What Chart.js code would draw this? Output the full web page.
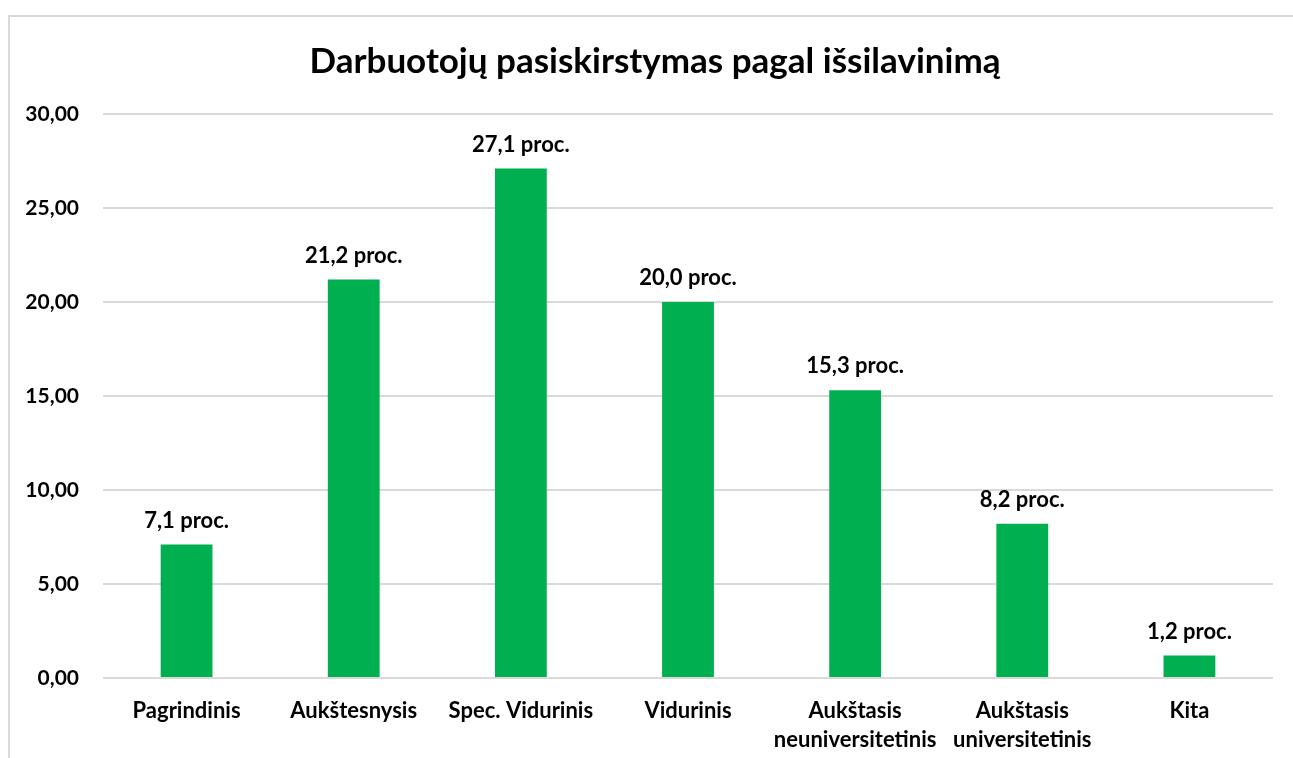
<!DOCTYPE html>
<html>
<head>
<meta charset="utf-8">
<script src="https://cdn.jsdelivr.net/npm/chart.js@4/dist/chart.umd.min.js"></script>
<style>
  body { margin: 0; background: #fff; }
  #ramas { position: absolute; left: 8px; top: 15px; width: 1400px; height: 800px; border: 2px solid #d9d9d9; box-sizing: border-box; }
  #wrap { position: absolute; left: 0; top: 0; width: 1293px; height: 758px; }
</style>
</head>
<body>
<div id="ramas"></div>
<div id="wrap"><canvas id="grafikas"></canvas></div>
<script>
var kategorijos = ["Pagrindinis", "Aukštesnysis", "Spec. Vidurinis", "Vidurinis", ["Aukštasis", "neuniversitetinis"], ["Aukštasis", "universitetinis"], "Kita"];
var reiksmes = [7.1, 21.2, 27.1, 20.0, 15.3, 8.2, 1.2];
var yZymes = [0, 5, 10, 15, 20, 25, 30];
var pavadinimas = "Darbuotojų pasiskirstymas pagal išsilavinimą";

var sriftas = "Lato, 'Open Sans', sans-serif";

function formatas(v) { return v.toFixed(2).replace(".", ","); }

// placiausia y zyme, kad zymes butu lygiuojamos desineje
var mctx = document.createElement("canvas").getContext("2d");
mctx.font = "bold 21px " + sriftas;
var placiausia = 0;
yZymes.forEach(function(v) {
  placiausia = Math.max(placiausia, mctx.measureText(formatas(v)).width);
});

// uzrasai virs stulpeliu
var etiketes = {
  id: "etiketes",
  afterDatasetsDraw: function(chart) {
    var ctx = chart.ctx;
    var meta = chart.getDatasetMeta(0);
    ctx.save();
    ctx.font = "bold 22px " + sriftas;
    ctx.fillStyle = "#000";
    ctx.textAlign = "center";
    ctx.textBaseline = "middle";
    meta.data.forEach(function(bar, i) {
      var t = reiksmes[i].toFixed(1).replace(".", ",") + " proc.";
      ctx.fillText(t, bar.x, bar.y - 24);
    });
    ctx.restore();
  }
};

new Chart("grafikas", {
  type: "bar",
  data: {
    labels: kategorijos,
    datasets: [{
      data: reiksmes,
      backgroundColor: "#00B050",
      barPercentage: 0.31,
      categoryPercentage: 1
    }]
  },
  options: {
    responsive: true,
    maintainAspectRatio: false,
    animation: false,
    layout: { padding: { left: 37, right: 20, top: 0, bottom: 0 } },
    plugins: {
      legend: { display: false },
      tooltip: { enabled: false },
      title: {
        display: true,
        text: pavadinimas,
        color: "#000",
        font: { family: sriftas, size: 35, weight: "bold", lineHeight: 1.2 },
        padding: { top: 41, bottom: 31 }
      }
    },
    scales: {
      x: {
        afterFit: function(axis) { axis.height = 80; },
        grid: { display: false, drawTicks: false },
        border: { display: false },
        ticks: {
          color: "#000",
          font: { family: sriftas, size: 22, weight: "bold", lineHeight: 1.32 },
          padding: 18,
          maxRotation: 0,
          autoSkip: false
        }
      },
      y: {
        min: 0,
        max: 30,
        afterBuildTicks: function(axis) {
          axis.ticks = yZymes.map(function(v) { return { value: v }; });
        },
        afterFit: function(axis) { axis.width = 66; },
        grid: { color: "#d9d9d9", lineWidth: 2, drawTicks: false },
        border: { display: false },
        ticks: {
          color: "#000",
          mirror: true,
          crossAlign: "far",
          padding: -24 - placiausia,
          font: { family: sriftas, size: 21, weight: "bold" },
          callback: function(v) { return formatas(v); }
        }
      }
    }
  },
  plugins: [etiketes]
});
</script>
</body>
</html>
